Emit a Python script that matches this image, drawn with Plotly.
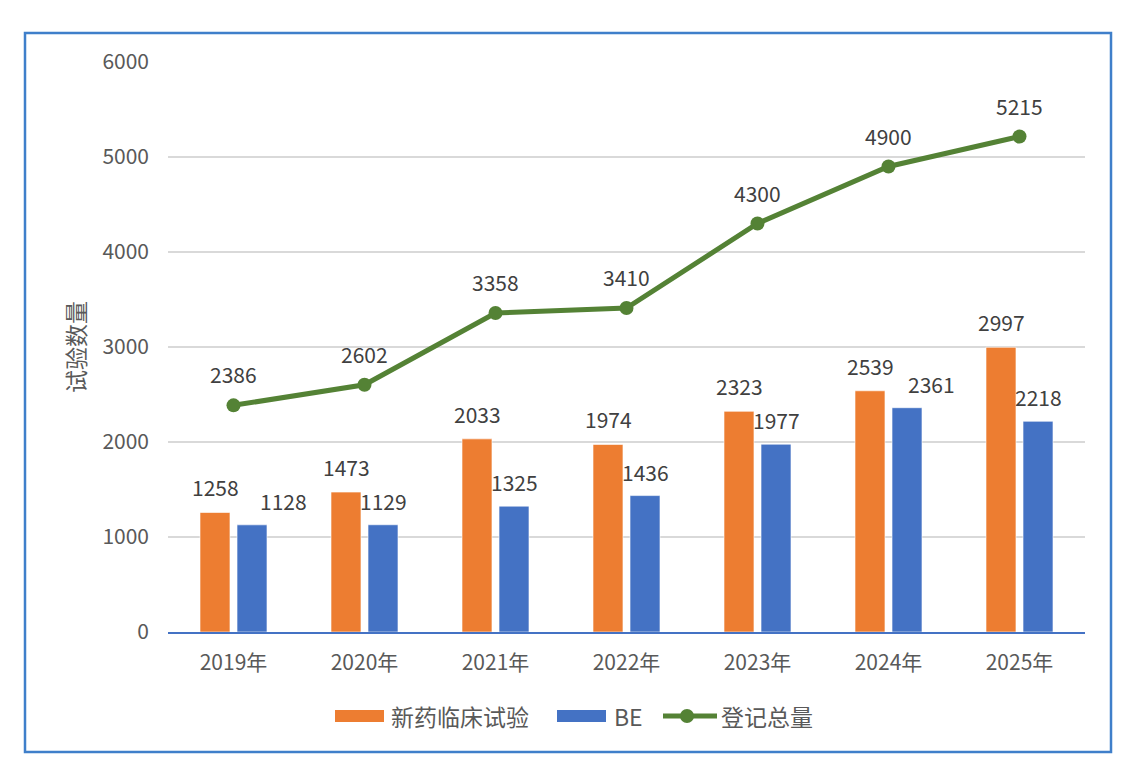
import plotly.graph_objects as go

# ---- data ----
years = ["2019年", "2020年", "2021年", "2022年", "2023年", "2024年", "2025年"]
new_drug = [1258, 1473, 2033, 1974, 2323, 2539, 2997]
be = [1128, 1129, 1325, 1436, 1977, 2361, 2218]
total = [2386, 2602, 3358, 3410, 4300, 4900, 5215]
y_ticks = [0, 1000, 2000, 3000, 4000, 5000, 6000]

# label horizontal nudges for BE labels (px), as placed in the original
be_label_dx = [31, 0, 0, 0, 0, 24, 0]

ORANGE = "#ED7D31"
BLUE = "#4472C4"
GREEN = "#548235"
LABEL = "#404040"
TICK = "#595959"
FONT = "Noto Sans CJK SC"
NUM_SIZE = 21

W, H = 1122, 762
L, R, T, B = 168, 1085, 62, 632


def px(x):
    return (x - L) / (R - L)


def py(y):
    return (B - y) / (B - T)


fig = go.Figure()
fig.add_trace(go.Bar(x=years, y=new_drug, name="新药临床试验",
                     marker=dict(color=ORANGE, line=dict(color="white", width=0.6))))
fig.add_trace(go.Bar(x=years, y=be, name="BE",
                     marker=dict(color=BLUE, line=dict(color="white", width=0.6))))
fig.add_trace(go.Scatter(x=years, y=total, name="登记总量", mode="lines+markers",
                         line=dict(color=GREEN, width=5),
                         marker=dict(color=GREEN, size=14)))

ann = []
for i, yr in enumerate(years):
    ann.append(dict(x=yr, y=new_drug[i], text=str(new_drug[i]), xref="x", yref="y",
                    showarrow=False, xshift=-18.5, yshift=25,
                    font=dict(size=NUM_SIZE, color=LABEL, family=FONT)))
    ann.append(dict(x=yr, y=be[i], text=str(be[i]), xref="x", yref="y",
                    showarrow=False, xshift=18.5 + be_label_dx[i], yshift=24,
                    font=dict(size=NUM_SIZE, color=LABEL, family=FONT)))
    ann.append(dict(x=yr, y=total[i], text=str(total[i]), xref="x", yref="y",
                    showarrow=False, yshift=31,
                    font=dict(size=NUM_SIZE, color=LABEL, family=FONT)))

# y-axis title
ann.append(dict(x=px(75), y=py(347), xref="paper", yref="paper", text="试验数量",
                textangle=-90, showarrow=False, xanchor="center", yanchor="middle",
                font=dict(size=23, color=TICK, family=FONT)))

# manual legend
ly = 716
shapes = [
    dict(type="rect", xref="paper", yref="paper", x0=px(25), x1=px(1111),
         y0=py(752), y1=py(33), line=dict(color="#3F7FCA", width=2.5), layer="below"),
    dict(type="rect", xref="paper", yref="paper", x0=px(335), x1=px(384),
         y0=py(722), y1=py(710), fillcolor=ORANGE, line=dict(width=0)),
    dict(type="rect", xref="paper", yref="paper", x0=px(557), x1=px(606),
         y0=py(722), y1=py(710), fillcolor=BLUE, line=dict(width=0)),
    dict(type="line", xref="paper", yref="paper", x0=px(663), x1=px(717),
         y0=py(ly), y1=py(ly), line=dict(color=GREEN, width=5)),
    dict(type="circle", xref="paper", yref="paper", x0=px(680), x1=px(694),
         y0=py(ly + 7), y1=py(ly - 7), fillcolor=GREEN, line=dict(width=0)),
]
for xx, txt in [(389, "新药临床试验"), (612, "BE"), (719, "登记总量")]:
    ann.append(dict(x=px(xx), y=py(ly), xref="paper", yref="paper", text=txt,
                    xanchor="left", yanchor="middle", showarrow=False,
                    font=dict(size=23, color=TICK, family=FONT)))

fig.update_layout(
    width=W, height=H,
    margin=dict(l=L, r=W - R, t=T, b=H - B, pad=0),
    paper_bgcolor="white", plot_bgcolor="white",
    barmode="group", bargap=0.435, bargroupgap=0.19,
    showlegend=False,
    font=dict(family=FONT, color=TICK),
    annotations=ann, shapes=shapes,
    xaxis=dict(showline=True, linecolor=BLUE, linewidth=2, showgrid=False,
               ticks="", tickfont=dict(size=NUM_SIZE, color=TICK, family=FONT),
               ticklabelstandoff=11),
    yaxis=dict(range=[0, 6000], tickvals=y_ticks, showgrid=True, gridcolor="#D9D9D9",
               gridwidth=1.5, zeroline=False, showline=False, ticks="",
               tickfont=dict(size=NUM_SIZE, color=TICK, family=FONT),
               ticklabelstandoff=18),
)

fig.write_html("out.html")
